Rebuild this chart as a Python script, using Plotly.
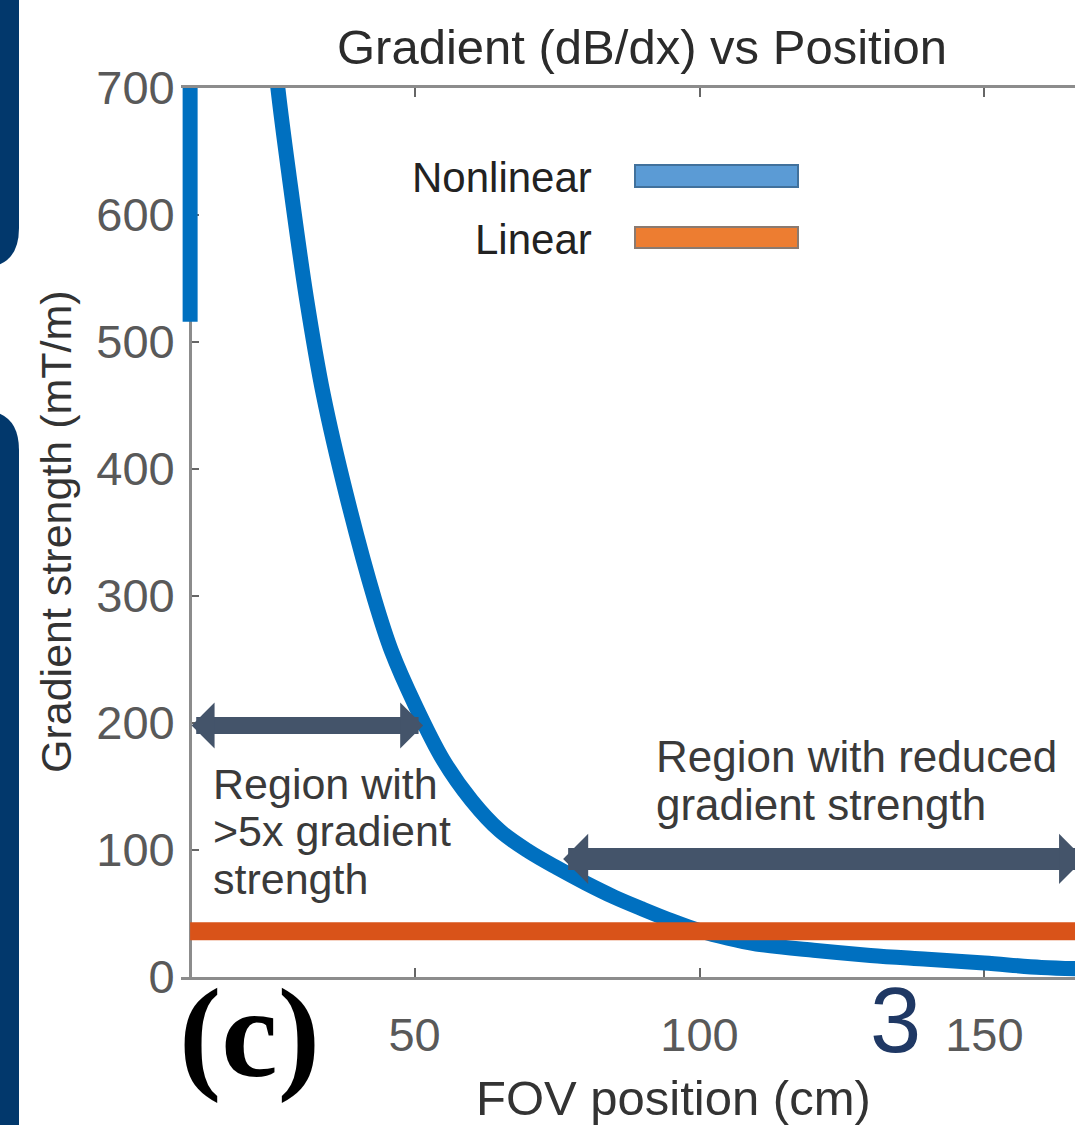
import plotly.graph_objects as go

# ---------------- data ----------------
nonlinear_x = [10.6, 10.6, None, 24, 26, 28, 31, 34, 38, 43, 46, 50, 55, 60, 65, 70, 75, 80,
               85, 90, 95, 100, 105, 110, 120, 130, 140, 150, 160, 167]
nonlinear_y = [516, 720, None, 790, 700, 630, 535, 458, 380, 297, 256, 215, 171, 139, 115, 99, 86, 74,
               63, 53.5, 44.5, 36.5, 30.5, 26, 21, 17, 14, 11, 7.5, 6.5]
linear_x = [10.6, 167]
linear_y = [36, 36]
x_ticks = [50, 100, 150]
y_ticks = [0, 100, 200, 300, 400, 500, 600, 700]
x_range = [9.0, 165.9]
y_range = [0, 700]
axis_x = 10.6
# double arrows: (start x, end x, y)
arrow_high = (10.6, 51.5, 198)
arrow_low = (75.8, 167.5, 93)

# ---------------- layout helpers ----------------
W, H = 1075, 1125
ML, MT, MR = 181, 88, 0
PW = W - ML - MR
PH = 977 - MT
MB = H - MT - PH


def px(x):
    return (x - ML) / PW


def py(y):
    return (MT + PH - y) / PH


fig = go.Figure()
fig.add_trace(go.Scatter(x=nonlinear_x, y=nonlinear_y, mode="lines", name="Nonlinear",
                         line=dict(color="#0070C0", width=15, shape="spline", smoothing=1.0),
                         connectgaps=False, showlegend=False))
fig.add_trace(go.Scatter(x=linear_x, y=linear_y, mode="lines", name="Linear",
                         line=dict(color="#D95319", width=18), showlegend=False))

tickfont = dict(family="Liberation Sans, Arial, sans-serif", size=47, color="#595959")

fig.update_xaxes(range=x_range, tickvals=x_ticks, ticks="inside", ticklen=9, tickwidth=2,
                 tickcolor="#666666", showline=True, linecolor="#8c8c8c", linewidth=3,
                 mirror="ticks", showgrid=False, zeroline=False, layer="below traces",
                 tickfont=tickfont, ticklabelstandoff=15)
fig.update_yaxes(range=y_range, tickvals=y_ticks, ticks="inside", ticklen=7, tickwidth=2,
                 tickcolor="#666666", showline=True, linecolor="#8c8c8c", linewidth=3,
                 anchor="free", position=(axis_x - x_range[0]) / (x_range[1] - x_range[0]),
                 showgrid=False, zeroline=False, layer="below traces",
                 tickfont=tickfont, ticklabelstandoff=5)

ann = []
for (xa, xb, yy), wdt, sz in [(arrow_high, 17, 0.45), (arrow_low, 22, 0.38)]:
    ann.append(dict(x=xb, y=yy, ax=xa, ay=yy, xref="x", yref="y", axref="x", ayref="y",
                    text="", showarrow=True, arrowhead=1, startarrowhead=1,
                    arrowside="end+start", arrowsize=sz, startarrowsize=sz,
                    arrowwidth=wdt, arrowcolor="#44546A", standoff=0, startstandoff=0))

sans = "Liberation Sans, Arial, sans-serif"


def label(text, x, y, size, color="#333333", xanchor="center", family=sans, angle=0, weight=None):
    f = dict(family=family, size=size, color=color)
    if weight:
        f["weight"] = weight
    ann.append(dict(text=text, x=px(x), y=py(y), xref="paper", yref="paper", showarrow=False,
                    xanchor=xanchor, yanchor="middle", font=f, textangle=angle))


label("Gradient (dB/dx) vs Position", 642, 47, 49, "#2b2b2b")
label("FOV position (cm)", 673, 1098, 49, "#333333")
label("Gradient strength (mT/m)", 56, 532, 43, "#333333", angle=-90)
label("Nonlinear", 594, 177, 42, "#222222", xanchor="right")
label("Linear", 594, 239, 42, "#222222", xanchor="right")
label("Region with", 211, 784, 43, "#3a3a3a", xanchor="left")
label("&gt;5x gradient", 211, 831, 43, "#3a3a3a", xanchor="left")
label("strength", 211, 879, 43, "#3a3a3a", xanchor="left")
label("Region with reduced", 654, 756, 44, "#3a3a3a", xanchor="left")
label("gradient strength", 654, 804, 44, "#3a3a3a", xanchor="left")
label("(c)", 249, 1033, 127, "#000000", family="Liberation Serif, DejaVu Serif, serif", weight="bold")
label("3", 895, 1020, 92, "#1F3864")

shapes = []
# custom legend swatches
shapes.append(dict(type="rect", xref="paper", yref="paper", x0=px(635), x1=px(798),
                   y0=py(187), y1=py(165), fillcolor="#5B9BD5", line=dict(color="#41719C", width=2)))
shapes.append(dict(type="rect", xref="paper", yref="paper", x0=px(635), x1=px(798),
                   y0=py(248), y1=py(227), fillcolor="#ED7D31", line=dict(color="#8A7A70", width=2)))


def path(points_cmds):
    out = []
    for cmd, pts in points_cmds:
        coords = " ".join(f"{px(a):.5f},{py(b):.5f}" for a, b in pts)
        out.append(f"{cmd}{coords}")
    return " ".join(out) + " Z"


navy = "#02386C"
shapes.append(dict(type="path", xref="paper", yref="paper", fillcolor=navy, line=dict(width=0),
                   path=path([("M", [(-20, -20)]), ("L", [(19, -20)]), ("L", [(19, 228)]),
                              ("Q", [(19, 268), (-20, 268)])])))
shapes.append(dict(type="path", xref="paper", yref="paper", fillcolor=navy, line=dict(width=0),
                   path=path([("M", [(-20, 1140)]), ("L", [(-20, 410)]),
                              ("Q", [(19, 410), (19, 450)]), ("L", [(19, 1140)])])))

fig.update_layout(width=W, height=H, margin=dict(l=ML, r=MR, t=MT, b=MB, pad=0),
                  paper_bgcolor="white", plot_bgcolor="white", showlegend=False,
                  annotations=ann, shapes=shapes)

fig.write_html("out.html", config={"displayModeBar": False},
               post_script="document.body.style.margin='0px';document.body.style.overflow='hidden';")
